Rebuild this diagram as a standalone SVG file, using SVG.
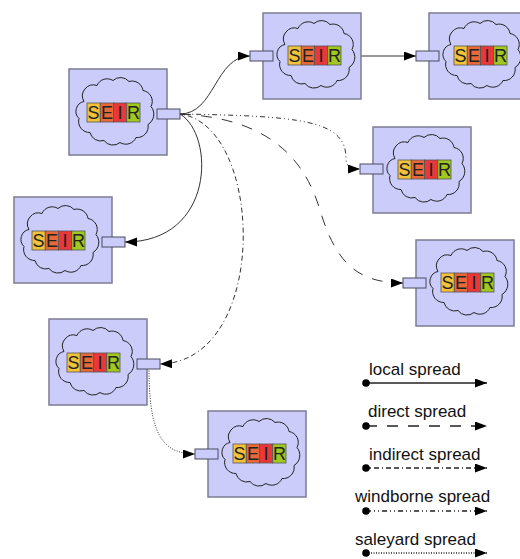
<svg xmlns="http://www.w3.org/2000/svg" xmlns:xlink="http://www.w3.org/1999/xlink" width="520" height="559" viewBox="0 0 520 559">
<style>
.box{fill:#ccccfa;stroke:#7c7c94;stroke-width:1.5}
.cloud{fill:none;stroke:#222;stroke-width:1}
.port{fill:#ccccfa;stroke:#4a4a60;stroke-width:1}
.cell{stroke:#555;stroke-width:0.8}
.lt{font-family:"Liberation Sans",Arial,sans-serif;font-size:18px;fill:#222;text-anchor:middle}
.conn{fill:none;stroke:#333;stroke-width:1}
.leg{fill:none;stroke:#222;stroke-width:1.3}
.legtext{font-family:"Liberation Sans",Arial,sans-serif;font-size:17px;fill:#111}
.local{}
.direct{stroke-dasharray:11,10}
.indirect{stroke-dasharray:5,3,5,3,1,3}
.wind{stroke-dasharray:5,3,1,3,1,3}
.sale{stroke-dasharray:1,1.5}
</style>
<defs>
<marker id="arr" markerUnits="userSpaceOnUse" markerWidth="13" markerHeight="10" refX="12" refY="4.5" orient="auto" viewBox="0 0 13 10">
<path d="M0,0 L12,4.5 L0,9 z" fill="#000"/>
</marker>
<marker id="dot" markerUnits="userSpaceOnUse" markerWidth="9" markerHeight="9" refX="4.5" refY="4.5" viewBox="0 0 9 9">
<circle cx="4.5" cy="4.5" r="3.8" fill="#000"/>
</marker>
<path id="cloud" class="cloud" d="M-31,-9 A11,11 0 0 1 -18,-25 A11,11 0 0 1 -2,-30 A11,11 0 0 1 14,-29 A11,11 0 0 1 28,-20 A11,11 0 0 1 36,-4 A12,12 0 0 1 33,14 A11,11 0 0 1 21,27 A11,11 0 0 1 5,32 A11,11 0 0 1 -11,30 A11,11 0 0 1 -25,22 A11,11 0 0 1 -36,8 A10,10 0 0 1 -31,-9 Z"/>
<g id="cells">
<rect class="cell" x="0" y="0" width="13.25" height="19" fill="#f2c23a"/>
<rect class="cell" x="13.25" y="0" width="13.25" height="19" fill="#e8683a"/>
<rect class="cell" x="26.5" y="0" width="13.25" height="19" fill="#e8383a"/>
<rect class="cell" x="39.75" y="0" width="13.25" height="19" fill="#a0c81e"/>
</g>
</defs>

<g id="connectors">
<path class="conn local" d="M180,114 C215,114 215,56 250,56" marker-end="url(#arr)"/>
<path class="conn local" d="M180,114 C215,135 215,242 125,242" marker-end="url(#arr)"/>
<path class="conn indirect" d="M180,114 C265,125 270,362 160,364" marker-end="url(#arr)"/>
<path class="conn wind" d="M180,114 C300,116 346,120 346,158 C346,166 350,169 360,169" marker-end="url(#arr)"/>
<path class="conn direct" d="M180,114 C270,118 305,160 320,210 C335,260 355,283 403,283" marker-end="url(#arr)"/>
<path class="conn local" d="M361,56 L416,56" marker-end="url(#arr)"/>
<path class="conn sale" d="M149,368 C149,430 160,454 195,454" marker-end="url(#arr)"/>
</g>

<g id="nodeA" transform="translate(69,69)">
<rect class="box" x="0" y="0" width="98" height="86"/>
<use xlink:href="#cloud" href="#cloud" transform="translate(46,41.5)"/>
<use xlink:href="#cells" href="#cells" x="18" y="34"/>
<text class="lt" x="24.6" y="50">S</text><text class="lt" x="37.9" y="50">E</text><text class="lt" x="51.1" y="50">I</text><text class="lt" x="64.4" y="50">R</text>
<rect class="port" x="88" y="40" width="23" height="10"/>
</g>

<g id="nodeB" transform="translate(263,13)">
<rect class="box" x="0" y="0" width="98" height="86"/>
<use xlink:href="#cloud" href="#cloud" transform="translate(53,40.5)"/>
<use xlink:href="#cells" href="#cells" x="25" y="33"/>
<text class="lt" x="31.6" y="49">S</text><text class="lt" x="44.9" y="49">E</text><text class="lt" x="58.1" y="49">I</text><text class="lt" x="71.4" y="49">R</text>
<rect class="port" x="-13" y="38" width="23" height="10"/>
</g>

<g id="nodeC" transform="translate(429,13)">
<rect class="box" x="0" y="0" width="98" height="86"/>
<use xlink:href="#cloud" href="#cloud" transform="translate(53,40.5)"/>
<use xlink:href="#cells" href="#cells" x="25" y="33"/>
<text class="lt" x="31.6" y="49">S</text><text class="lt" x="44.9" y="49">E</text><text class="lt" x="58.1" y="49">I</text><text class="lt" x="71.4" y="49">R</text>
<rect class="port" x="-13" y="38" width="23" height="10"/>
</g>

<g id="nodeD" transform="translate(373,127)">
<rect class="box" x="0" y="0" width="98" height="86"/>
<use xlink:href="#cloud" href="#cloud" transform="translate(53,40.5)"/>
<use xlink:href="#cells" href="#cells" x="25" y="33"/>
<text class="lt" x="31.6" y="49">S</text><text class="lt" x="44.9" y="49">E</text><text class="lt" x="58.1" y="49">I</text><text class="lt" x="71.4" y="49">R</text>
<rect class="port" x="-13" y="37" width="23" height="10"/>
</g>

<g id="nodeE" transform="translate(416,240)">
<rect class="box" x="0" y="0" width="98" height="86"/>
<use xlink:href="#cloud" href="#cloud" transform="translate(53,40.5)"/>
<use xlink:href="#cells" href="#cells" x="25" y="33"/>
<text class="lt" x="31.6" y="49">S</text><text class="lt" x="44.9" y="49">E</text><text class="lt" x="58.1" y="49">I</text><text class="lt" x="71.4" y="49">R</text>
<rect class="port" x="-13" y="38" width="23" height="10"/>
</g>

<g id="nodeF" transform="translate(14,197)">
<rect class="box" x="0" y="0" width="98" height="86"/>
<use xlink:href="#cloud" href="#cloud" transform="translate(46,41.5)"/>
<use xlink:href="#cells" href="#cells" x="18" y="34"/>
<text class="lt" x="24.6" y="50">S</text><text class="lt" x="37.9" y="50">E</text><text class="lt" x="51.1" y="50">I</text><text class="lt" x="64.4" y="50">R</text>
<rect class="port" x="88" y="40" width="23" height="10"/>
</g>

<g id="nodeG" transform="translate(49,319)">
<rect class="box" x="0" y="0" width="98" height="86"/>
<use xlink:href="#cloud" href="#cloud" transform="translate(46,41.5)"/>
<use xlink:href="#cells" href="#cells" x="18" y="34"/>
<text class="lt" x="24.6" y="50">S</text><text class="lt" x="37.9" y="50">E</text><text class="lt" x="51.1" y="50">I</text><text class="lt" x="64.4" y="50">R</text>
<rect class="port" x="88" y="40" width="23" height="10"/>
</g>

<g id="nodeH" transform="translate(208,411)">
<rect class="box" x="0" y="0" width="98" height="86"/>
<use xlink:href="#cloud" href="#cloud" transform="translate(53,40.5)"/>
<use xlink:href="#cells" href="#cells" x="25" y="33"/>
<text class="lt" x="31.6" y="49">S</text><text class="lt" x="44.9" y="49">E</text><text class="lt" x="58.1" y="49">I</text><text class="lt" x="71.4" y="49">R</text>
<rect class="port" x="-13" y="38" width="23" height="10"/>
</g>

<g id="legend">
<text class="legtext" x="369" y="375">local spread</text>
<path class="leg local" d="M366,383 L487,383" marker-start="url(#dot)" marker-end="url(#arr)"/>
<text class="legtext" x="368" y="417">direct spread</text>
<path class="leg direct" d="M366,426 L487,426" marker-start="url(#dot)" marker-end="url(#arr)"/>
<text class="legtext" x="369" y="460">indirect spread</text>
<path class="leg indirect" d="M366,468 L487,468" marker-start="url(#dot)" marker-end="url(#arr)"/>
<text class="legtext" x="355" y="502">windborne spread</text>
<path class="leg wind" d="M366,511 L487,511" marker-start="url(#dot)" marker-end="url(#arr)"/>
<text class="legtext" x="355" y="545">saleyard spread</text>
<path class="leg sale" d="M366,553 L487,553" marker-start="url(#dot)" marker-end="url(#arr)"/>
</g>
</svg>
